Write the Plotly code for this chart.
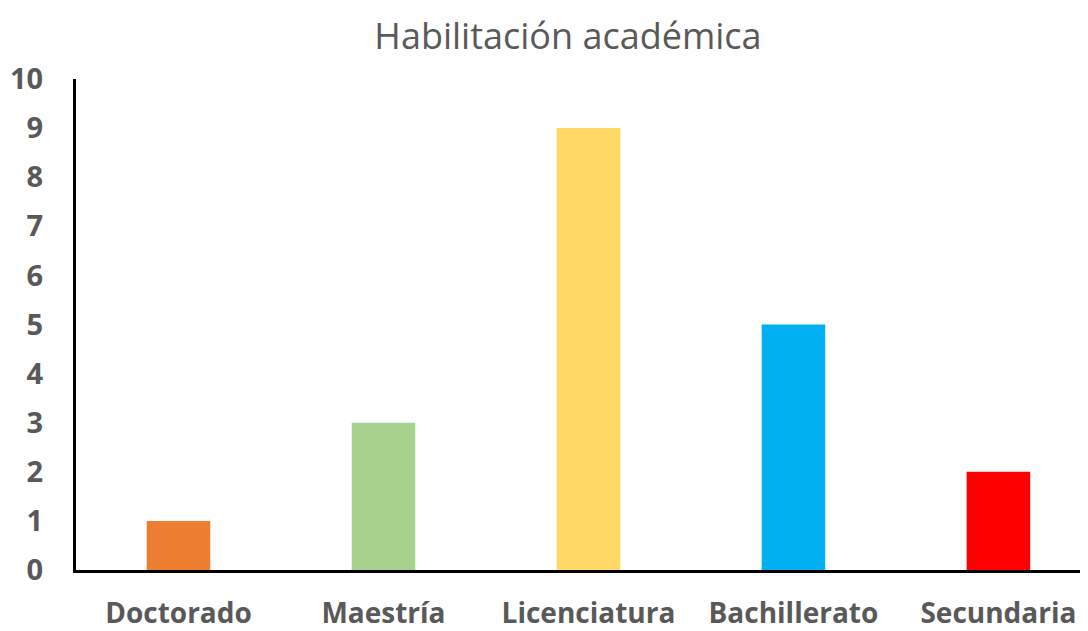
import plotly.graph_objects as go

categories = ["Doctorado", "Maestría", "Licenciatura", "Bachillerato", "Secundaria"]
values = [1, 3, 9, 5, 2]
colors = ["#ED7D31", "#A9D18E", "#FFD966", "#00B0F0", "#FF0000"]
y_ticks = list(range(0, 11))

FONT = "Open Sans, Lato, sans-serif"

fig = go.Figure(go.Bar(
    x=categories, y=values, marker_color=colors, width=0.31,
    marker_line_width=0,
))

fig.update_layout(
    width=1080, height=623,
    paper_bgcolor="white", plot_bgcolor="white",
    margin=dict(l=68, r=0, t=71, b=61, autoexpand=False),
    title=dict(text="Habilitación académica", x=0.5185, xanchor="center",
               yref="container", y=0.955, yanchor="middle",
               font=dict(family=FONT, size=36, color="#595959")),
    showlegend=False,
    xaxis=dict(range=[-0.5, 4.437], showline=True, linecolor="black", linewidth=3,
               tickfont=dict(family=FONT, size=28, color="#595959", weight="bold"),
               ticklabelstandoff=16, showgrid=False, zeroline=False, automargin=False),
    yaxis=dict(range=[0, 10], tickvals=y_ticks, showline=True, linecolor="black", linewidth=3,
               tickfont=dict(family=FONT, size=29, color="#595959", weight="bold"),
               ticklabelstandoff=24, showgrid=False, zeroline=False, automargin=False),
)

fig.write_html("out.html")
